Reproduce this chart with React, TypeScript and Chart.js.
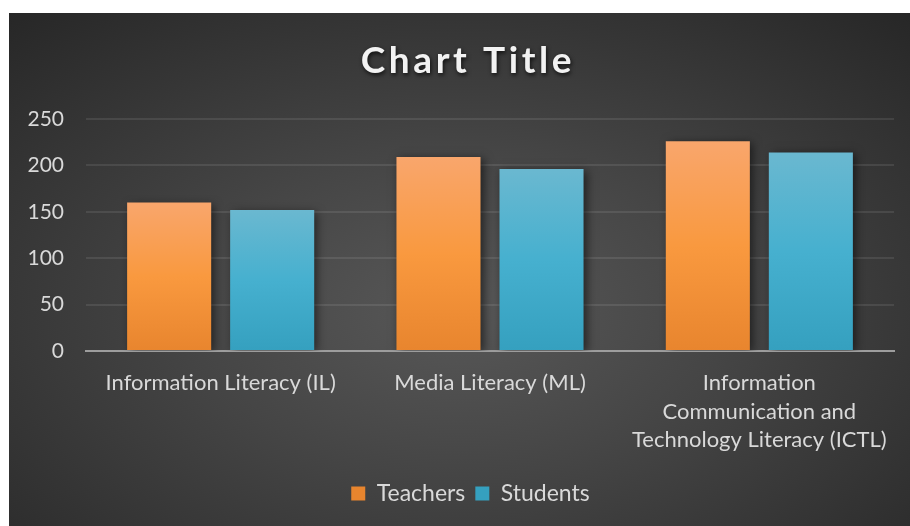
import React, { useEffect, useRef } from "react";
import { Chart, registerables } from "chart.js";

Chart.register(...registerables);

const CATEGORIES: (string | string[])[] = [
  "Information Literacy (IL)",
  "Media Literacy (ML)",
  ["Information", "Communication and", "Technology Literacy (ICTL)"],
];
const SERIES_NAMES = ["Teachers", "Students"];
const TEACHERS = [160, 209, 226];
const STUDENTS = [152, 196, 214];
const Y_MIN = 0;
const Y_MAX = 250;
const Y_STEP = 50;
const TITLE = "Chart Title";

const FONT = "Lato, 'Open Sans', sans-serif";
const TEXT_COLOR = "#d9d9d9";

const ORANGE = ["#f9a66c", "#f9993f", "#e8852e"];
const BLUE = ["#6ab8d0", "#46b0cf", "#35a0bf"];

function barGradient(stops: string[]) {
  return (ctx: any) => {
    const chart = ctx.chart;
    if (!chart.chartArea || ctx.type !== "data" || !chart.scales.y) return stops[1];
    const y = chart.scales.y;
    const top = y.getPixelForValue(ctx.raw);
    const bottom = y.getPixelForValue(0);
    if (!isFinite(top) || !isFinite(bottom) || top === bottom) return stops[1];
    const g = chart.ctx.createLinearGradient(0, top, 0, bottom);
    g.addColorStop(0, stops[0]);
    g.addColorStop(0.5, stops[1]);
    g.addColorStop(1, stops[2]);
    return g;
  };
}

const shadowPlugin = {
  id: "barShadow",
  beforeDatasetsDraw(chart: any) {
    const c = chart.ctx;
    c.save();
    c.shadowColor = "rgba(0,0,0,0.55)";
    c.shadowBlur = 9;
    c.shadowOffsetX = 3;
    c.shadowOffsetY = 2;
  },
  afterDatasetsDraw(chart: any) {
    chart.ctx.restore();
  },
};

const legendShiftPlugin = {
  id: "legendShift",
  afterLayout(chart: any) {
    if (chart.legend) {
      chart.legend.left += 19;
      chart.legend.right += 19;
    }
  },
};

const titlePlugin = {
  id: "shadowTitle",
  afterDraw(chart: any) {
    const c = chart.ctx;
    c.save();
    c.font = `bold 37px ${FONT}`;
    try {
      (c as any).letterSpacing = "3.6px";
    } catch (e) {}
    c.fillStyle = "#f2f2f2";
    c.textAlign = "center";
    c.textBaseline = "alphabetic";
    c.shadowColor = "rgba(0,0,0,0.75)";
    c.shadowBlur = 4;
    c.shadowOffsetX = 1;
    c.shadowOffsetY = 2;
    c.fillText(TITLE, 459, 60);
    c.restore();
  },
};

export default function App() {
  const ref = useRef<HTMLCanvasElement | null>(null);

  useEffect(() => {
    if (!ref.current) return;
    const chart = new Chart(ref.current, {
      type: "bar",
      data: {
        labels: CATEGORIES,
        datasets: [
          {
            label: SERIES_NAMES[0],
            data: TEACHERS,
            backgroundColor: barGradient(ORANGE),
            borderWidth: 0,
            categoryPercentage: 0.765,
            barPercentage: 0.816,
          },
          {
            label: SERIES_NAMES[1],
            data: STUDENTS,
            backgroundColor: barGradient(BLUE),
            borderWidth: 0,
            categoryPercentage: 0.765,
            barPercentage: 0.816,
          },
        ],
      },
      options: {
        responsive: false,
        animation: false,
        devicePixelRatio: 1,
        layout: { padding: { left: 0, right: 16, top: 106, bottom: 11 } },
        plugins: {
          title: { display: false },
          tooltip: { enabled: false },
          legend: {
            position: "bottom",
            labels: {
              color: TEXT_COLOR,
              font: { family: FONT, size: 23 },
              boxWidth: 14,
              boxHeight: 14,
              padding: 10,
            },
          },
        },
        scales: {
          x: {
            grid: { display: false, drawTicks: false },
            border: { display: true, color: "#9d9d9d", width: 2 },
            ticks: {
              color: TEXT_COLOR,
              font: { family: FONT, size: 22, lineHeight: 28.5 / 22 },
              padding: 18,
              maxRotation: 0,
              autoSkip: false,
            },
            afterFit: (s: any) => {
              s.height = 121;
            },
          },
          y: {
            min: Y_MIN,
            max: Y_MAX,
            grid: {
              color: "rgba(255,255,255,0.09)",
              lineWidth: 2,
              drawTicks: false,
            },
            border: { display: false },
            ticks: {
              stepSize: Y_STEP,
              color: TEXT_COLOR,
              font: { family: FONT, size: 21 },
              padding: 22,
            },
            afterFit: (s: any) => {
              s.width = 77;
            },
          },
        },
      },
      plugins: [shadowPlugin, legendShiftPlugin, titlePlugin],
    });
    return () => chart.destroy();
  }, []);

  return (
    <div
      style={{
        position: "fixed",
        left: 9,
        top: 13,
        width: 901,
        height: 513,
        overflow: "hidden",
        background:
          "radial-gradient(ellipse 75% 80% at 50% 58%, #585858 0%, #454545 40%, #333333 75%, #262626 100%)",
      }}
    >
      <canvas ref={ref} width={901} height={513} style={{ display: "block" }} />
    </div>
  );
}
